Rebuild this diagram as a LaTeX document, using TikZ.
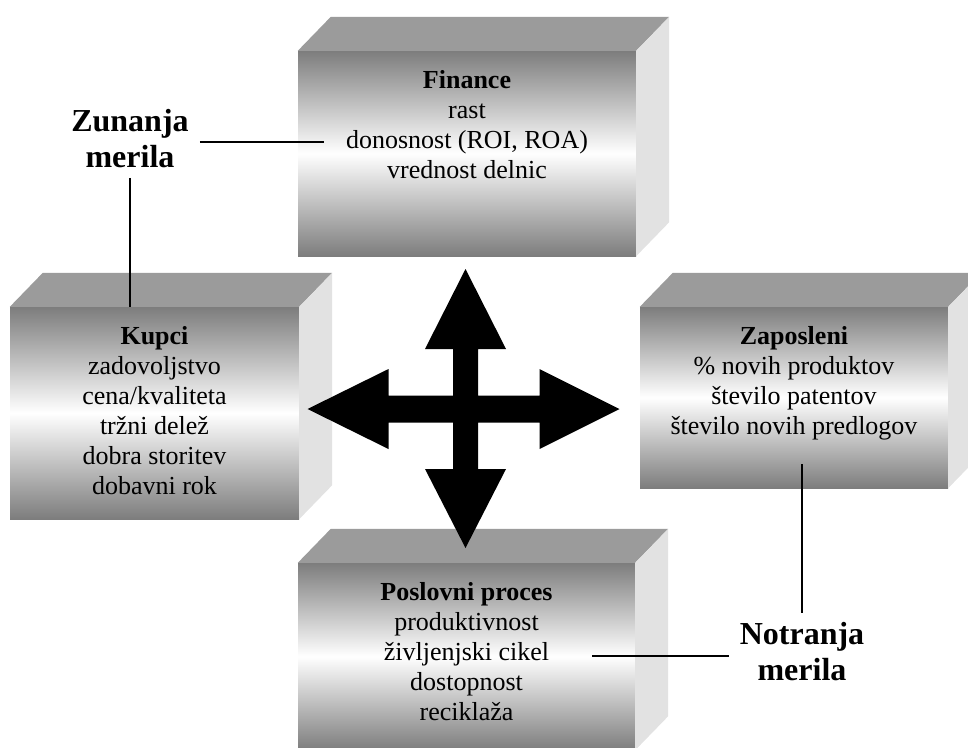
\documentclass[tikz,border=0pt]{standalone}
\usepackage{fontspec}
\setmainfont{Liberation Serif}
\usetikzlibrary{positioning}
\definecolor{facedark}{RGB}{125,125,125}
\definecolor{facetop}{RGB}{155,155,155}
\definecolor{faceside}{RGB}{226,226,226}

\begin{document}
\begin{tikzpicture}[x=1pt, y=-1pt,
    front/.style={shade, top color=facedark, bottom color=facedark, middle color=white, inner sep=0pt},
    boxtext/.style={align=center, inner sep=0pt, font=\fontsize{26}{30}\selectfont},
    measure/.style={align=center, inner xsep=11pt, inner ysep=10pt, font=\fontsize{32}{36}\selectfont\bfseries},
    lead/.style={line width=2pt}]
\clip (0,0) rectangle (968,747);
\node[front, minimum width=338pt, minimum height=205pt] (fin) at (467,153.5) {};
\node[front, minimum width=289pt, minimum height=212pt] (kup) at (154.5,413) {};
\node[front, minimum width=308pt, minimum height=181pt] (zap) at (794,397.5) {};
\node[front, minimum width=337pt, minimum height=187pt] (pos) at (466.5,656.5) {};
\foreach \b in {fin,kup,zap,pos} {
    \fill[facetop] (\b.north west) -- ++(33,-34) -- ([shift={(33,-34)}]\b.north east) -- (\b.north east) -- cycle;
    \fill[faceside] (\b.north east) -- ++(33,-34) -- ([shift={(33,-34)}]\b.south east) -- (\b.south east) -- cycle;
}
\node[boxtext, below=19pt of fin.north] (fintxt) {\textbf{Finance}\\rast\\donosnost (ROI, ROA)\\vrednost delnic};
\node[boxtext, below=19pt of kup.north] (kuptxt) {\textbf{Kupci}\\zadovoljstvo\\cena/kvaliteta\\tržni delež\\dobra storitev\\dobavni rok};
\node[boxtext, below=19pt of zap.north] (zaptxt) {\textbf{Zaposleni}\\\% novih produktov\\število patentov\\število novih predlogov};
\node[boxtext, below=19pt of pos.north] (postxt) {\textbf{Poslovni proces}\\produktivnost\\življenjski cikel\\dostopnost\\reciklaža};

\coordinate (hub) at (465.5,409);
\fill[shift={(hub)}] (0,-140) -- (40.5,-60) -- (12.5,-60) -- (12.5,-13.5) -- (74,-13.5) -- (74,-40)
    -- (154,0) -- (74,40) -- (74,13.5) -- (12.5,13.5) -- (12.5,60) -- (40.5,60)
    -- (0,139) -- (-40.5,60) -- (-12.5,60) -- (-12.5,13.5) -- (-77,13.5) -- (-77,40)
    -- (-158,0) -- (-77,-40) -- (-77,-13.5) -- (-12.5,-13.5) -- (-12.5,-60) -- (-40.5,-60) -- cycle;

\node[measure] (zun) at (130,138.5) {Zunanja\\merila};
\node[measure] (notr) at (802,652) {Notranja\\merila};
\coordinate (finend) at (324,142);
\coordinate (zapend) at (803,464);
\coordinate (posend) at (592,656);
\draw[lead] (zun.east |- finend) -- (finend);
\draw[lead] (zun.south) -- (zun.south |- kup.north);
\draw[lead] (notr.north) -- (notr.north |- zapend);
\draw[lead] (posend) -- (posend -| notr.west);
\end{tikzpicture}
\end{document}
